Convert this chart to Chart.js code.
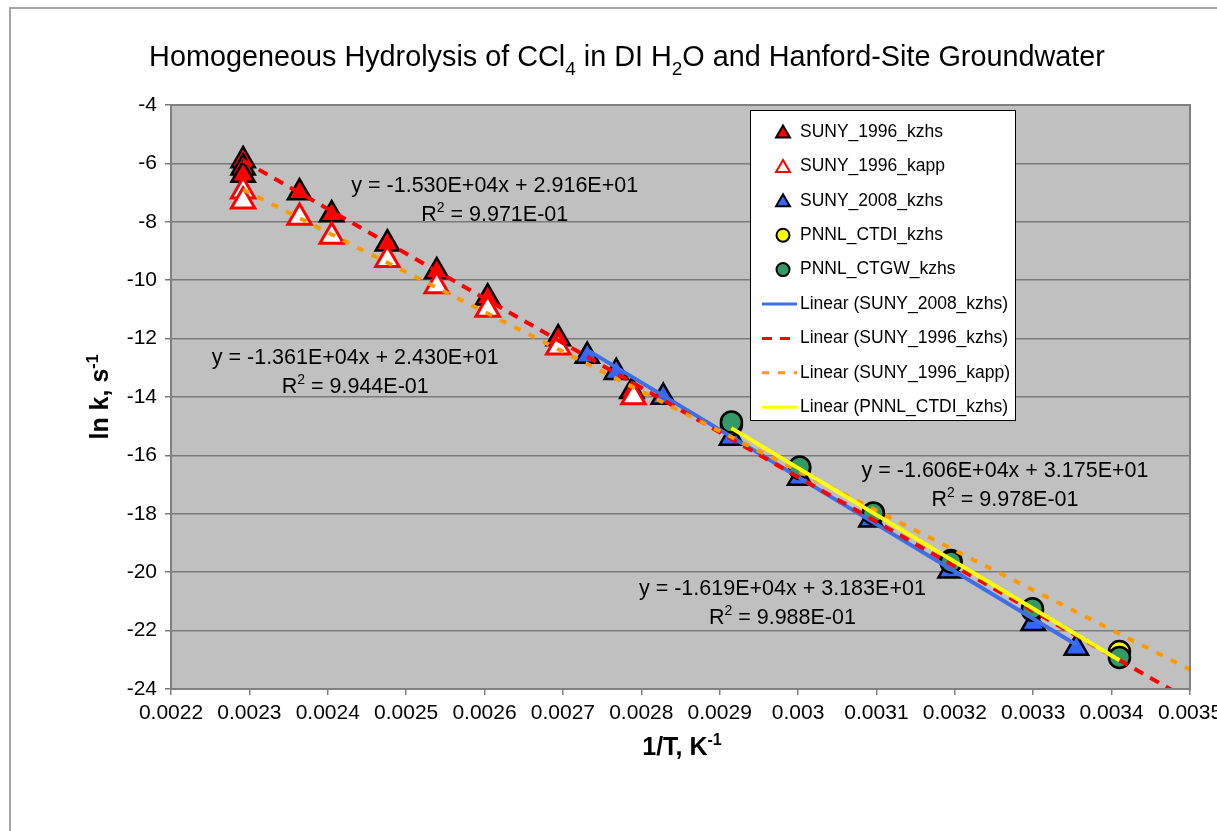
<!DOCTYPE html>
<html>
<head>
<meta charset="utf-8">
<script src="https://cdn.jsdelivr.net/npm/chart.js@4"></script>
<style>
    html, body { margin: 0; padding: 0; background: #fff; }
</style>
</head>
<body>
<canvas id="chart1" width="1217" height="831"></canvas>
<script>
// Data (x = 1/T in K^-1, y = ln k)
const suny96KzhsX = [0.002292, 0.002292, 0.002292, 0.002364, 0.002405, 0.002476, 0.002539, 0.002604, 0.002694, 0.002788];
const suny96KzhsY = [-5.9, -6.15, -6.4, -7.0, -7.75, -8.75, -9.7, -10.6, -12.0, -13.8];
const suny96KappX = [0.002292, 0.002292, 0.002364, 0.002405, 0.002476, 0.002539, 0.002604, 0.002694, 0.002790];
const suny96KappY = [-6.95, -7.3, -7.85, -8.5, -9.3, -10.2, -11.0, -12.3, -14.0];
const suny08X = [0.002731, 0.002768, 0.002828, 0.002915, 0.003002, 0.003093, 0.003194, 0.0033, 0.003355];
const suny08Y = [-12.6, -13.15, -14.0, -15.4, -16.77, -18.2, -19.95, -21.75, -22.6];
const pnnlX = [0.002915, 0.003002, 0.003096, 0.003195, 0.003299, 0.00341];
const ctdiY = [-14.95, -16.45, -18.0, -19.6, -21.3, -22.72];
const ctgwY = [-14.86, -16.4, -17.97, -19.65, -21.25, -22.92];

// Trendlines as printed on the chart: y = slope * x + intercept
const fitNames = ["Linear (SUNY_2008_kzhs)", "Linear (SUNY_1996_kzhs)", "Linear (SUNY_1996_kapp)", "Linear (PNNL_CTDI_kzhs)"];
const fitSlope = [-1.619e4, -1.530e4, -1.361e4, -1.606e4];
const fitIntercept = [31.83, 29.16, 24.30, 31.75];
const fitFrom = [0.002731, 0.002292, 0.002292, 0.002915];
const fitTo = [0.003355, 0.0035, 0.0035, 0.00341];
const fitEquation = ["y = -1.619E+04x + 3.183E+01", "y = -1.530E+04x + 2.916E+01", "y = -1.361E+04x + 2.430E+01", "y = -1.606E+04x + 3.175E+01"];
const fitR2 = [" = 9.988E-01", " = 9.971E-01", " = 9.944E-01", " = 9.978E-01"];

// Axis ranges
const xMin = 0.0022, xMax = 0.0035, xStep = 0.0001;
const yMin = -24, yMax = -4, yStep = 2;

const toPoints = (xs, ys) => xs.map((x, i) => ({ x: x, y: ys[i] }));
const fitPoints = (i) => [fitFrom[i], fitTo[i]].map(x => ({ x: x, y: fitSlope[i] * x + fitIntercept[i] }));

const FONT = "'Liberation Sans', Arial, sans-serif";

// label positions for the equations (data coords, centre of the text)
const eqPos = [
    { x: 0.002980, y: -20.55 },
    { x: 0.002613, y: -6.75 },
    { x: 0.002435, y: -12.63 },
    { x: 0.003264, y: -16.5 }
];

// text with sub / superscripts
function drawRich(ctx, parts, x, y, size, weight, align) {
    const small = Math.round(size * 0.65);
    let total = 0;
    parts.forEach(p => {
        ctx.font = `${weight} ${p[1] === "n" ? size : small}px ${FONT}`;
        total += ctx.measureText(p[0]).width;
    });
    let cx = align === "center" ? x - total / 2 : x;
    ctx.textAlign = "left";
    ctx.textBaseline = "alphabetic";
    parts.forEach(p => {
        ctx.font = `${weight} ${p[1] === "n" ? size : small}px ${FONT}`;
        let dy = 0;
        if (p[1] === "sub") dy = size * 0.3;
        if (p[1] === "sup") dy = -size * 0.42;
        ctx.fillText(p[0], cx, y + dy);
        cx += ctx.measureText(p[0]).width;
    });
}

function drawMarker(ctx, style, x, y, r, fill, stroke, lw) {
    ctx.beginPath();
    if (style === "triangle") {
        for (let k = 0; k < 3; k++) {
            const a = k * 2 * Math.PI / 3;
            const px = x + Math.sin(a) * r, py = y - Math.cos(a) * r;
            k === 0 ? ctx.moveTo(px, py) : ctx.lineTo(px, py);
        }
        ctx.closePath();
    } else {
        ctx.arc(x, y, r, 0, Math.PI * 2);
    }
    ctx.fillStyle = fill;
    ctx.fill();
    ctx.lineWidth = lw;
    ctx.strokeStyle = stroke;
    ctx.stroke();
}

const decorPlugin = {
    id: "decor",
    beforeDraw(chart) {
        const { ctx, chartArea: a } = chart;
        ctx.save();
        ctx.fillStyle = "#fff";
        ctx.fillRect(0, 0, chart.width, chart.height);
        ctx.strokeStyle = "#a6a6a6";
        ctx.lineWidth = 2;
        ctx.strokeRect(10, 8, chart.width + 20, chart.height + 20);
        ctx.fillStyle = "#c0c0c0";
        ctx.fillRect(a.left, a.top, a.right - a.left, a.bottom - a.top);
        ctx.restore();
    },
    afterDraw(chart) {
        const { ctx, chartArea: a } = chart;
        const xs = chart.scales.x, ys = chart.scales.y;
        ctx.save();
        // plot frame
        ctx.strokeStyle = "#808080";
        ctx.lineWidth = 2;
        ctx.strokeRect(a.left, a.top, a.right - a.left, a.bottom - a.top);

        // title
        ctx.fillStyle = "#000";
        drawRich(ctx, [["Homogeneous Hydrolysis of CCl", "n"], ["4", "sub"], [" in DI H", "n"], ["2", "sub"], ["O and Hanford-Site Groundwater", "n"]],
            627, 66, 28.8, "normal", "center");

        // axis titles
        drawRich(ctx, [["1/T, K", "n"], ["-1", "sup"]], 682, 755, 25, "bold", "center");
        ctx.save();
        ctx.translate(108, 397);
        ctx.rotate(-Math.PI / 2);
        drawRich(ctx, [["ln k, s", "n"], ["-1", "sup"]], 0, 0, 25, "bold", "center");
        ctx.restore();

        // trendline equations
        eqPos.forEach((p, i) => {
            const px = xs.getPixelForValue(p.x), py = ys.getPixelForValue(p.y);
            drawRich(ctx, [[fitEquation[i], "n"]], px, py + 7, 21.5, "normal", "center");
            drawRich(ctx, [["R", "n"], ["2", "sup"], [fitR2[i], "n"]], px, py + 36, 21.5, "normal", "center");
        });

        // legend
        const lx = 750, ly = 110, lw = 265, lh = 310;
        ctx.fillStyle = "#fff";
        ctx.fillRect(lx, ly, lw, lh);
        ctx.strokeStyle = "#000";
        ctx.lineWidth = 1;
        ctx.strokeRect(lx + 0.5, ly + 0.5, lw, lh);
        const order = [4, 5, 6, 7, 8, 0, 1, 2, 3];
        order.forEach((di, row) => {
            const ds = chart.data.datasets[di];
            const cy = ly + 22 + row * 34.4;
            if (ds.showLine) {
                ctx.beginPath();
                ctx.setLineDash(ds.borderDash || []);
                ctx.strokeStyle = ds.borderColor;
                ctx.lineWidth = 3;
                ctx.moveTo(762, cy);
                ctx.lineTo(797, cy);
                ctx.stroke();
                ctx.setLineDash([]);
            } else {
                drawMarker(ctx, ds.pointStyle, 783, ds.pointStyle === "triangle" ? cy + 1.5 : cy,
                    ds.pointStyle === "triangle" ? 8 : 6.5, ds.backgroundColor, ds.borderColor, 2);
            }
            ctx.fillStyle = "#000";
            ctx.font = `17.5px ${FONT}`;
            ctx.textAlign = "left";
            ctx.textBaseline = "middle";
            ctx.fillText(ds.label, 800, cy);
        });
        ctx.restore();
    }
};

const lineDataset = (i, color, dash, order) => ({
    label: fitNames[i],
    data: fitPoints(i),
    showLine: true,
    borderColor: color,
    borderWidth: 4,
    borderDash: dash,
    pointRadius: 0,
    order: order
});

const chart1 = document.querySelector("#chart1");
if (chart1) {
    new Chart(chart1, {
        type: "scatter",
        data: {
            datasets: [
                lineDataset(0, "#3f6fe6", [], 3),
                lineDataset(1, "#ff0000", [10, 8], 2),
                lineDataset(2, "#ff9900", [7, 9], 1),
                lineDataset(3, "#ffff00", [], 0),
                {
                    label: "SUNY_1996_kzhs",
                    data: toPoints(suny96KzhsX, suny96KzhsY),
                    pointStyle: "triangle",
                    pointRadius: 13.5,
                    backgroundColor: "#ff0000",
                    borderColor: "#000000",
                    borderWidth: 2.5,
                    order: 9
                },
                {
                    label: "SUNY_1996_kapp",
                    data: toPoints(suny96KappX, suny96KappY),
                    pointStyle: "triangle",
                    pointRadius: 13.5,
                    backgroundColor: "#ffffff",
                    borderColor: "#ff0000",
                    borderWidth: 3,
                    order: 8
                },
                {
                    label: "SUNY_2008_kzhs",
                    data: toPoints(suny08X, suny08Y),
                    pointStyle: "triangle",
                    pointRadius: 13.5,
                    backgroundColor: "#3366ff",
                    borderColor: "#000000",
                    borderWidth: 2.5,
                    order: 7
                },
                {
                    label: "PNNL_CTDI_kzhs",
                    data: toPoints(pnnlX, ctdiY),
                    pointStyle: "circle",
                    pointRadius: 10.5,
                    backgroundColor: "#ffff00",
                    borderColor: "#000000",
                    borderWidth: 2.5,
                    order: 6
                },
                {
                    label: "PNNL_CTGW_kzhs",
                    data: toPoints(pnnlX, ctgwY),
                    pointStyle: "circle",
                    pointRadius: 10.5,
                    backgroundColor: "#339966",
                    borderColor: "#000000",
                    borderWidth: 2.5,
                    order: 5
                }
            ]
        },
        options: {
            responsive: false,
            animation: false,
            events: [],
            layout: {
                padding: { top: 105, right: 27, left: 0, bottom: 0 }
            },
            plugins: {
                legend: { display: false },
                tooltip: { enabled: false },
                title: { display: false }
            },
            scales: {
                x: {
                    type: "linear",
                    min: xMin,
                    max: xMax,
                    ticks: {
                        stepSize: xStep,
                        autoSkip: false,
                        maxRotation: 0,
                        padding: 6,
                        color: "#000",
                        font: { family: FONT, size: 21 },
                        callback: (v) => String(+v.toFixed(4))
                    },
                    grid: { drawOnChartArea: false, color: "#808080", tickLength: 6, lineWidth: 1.5 },
                    border: { color: "#808080", width: 2 },
                    afterFit: (scale) => {
                        scale.height = 142;
                        scale.paddingLeft = 0;
                        scale.paddingRight = 0;
                    }
                },
                y: {
                    type: "linear",
                    min: yMin,
                    max: yMax,
                    ticks: {
                        stepSize: yStep,
                        padding: 8,
                        color: "#000",
                        font: { family: FONT, size: 21 }
                    },
                    grid: { color: "#7a7a7a", tickLength: 6, lineWidth: 1.5 },
                    border: { color: "#808080", width: 2 },
                    afterFit: (scale) => {
                        scale.width = 171;
                        scale.paddingTop = 0;
                        scale.paddingBottom = 0;
                    }
                }
            }
        },
        plugins: [decorPlugin]
    });
}
</script>
</body>
</html>
